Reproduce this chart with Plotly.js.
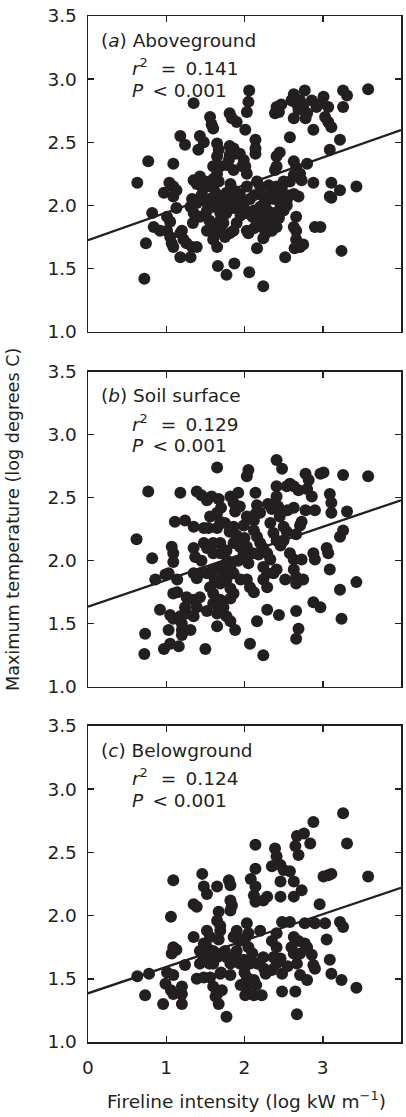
<!DOCTYPE html>
<html>
<head>
<meta charset="utf-8">
<script src="https://cdn.plot.ly/plotly-3.0.1.min.js"></script>
<style>html,body{margin:0;padding:0;background:#fff;}#chart{width:406px;height:1117px;}</style>
</head>
<body>
<div id="chart"></div>
<script>
// ---- Data (log fireline intensity vs log max temperature) ----
const aboveX = [3.58,2.77,3.26,3.31,3.01,2.63,2.06,2.05,2.03,1.35,1.56,1.58,1.60,1.81,1.84,1.90,2.01,3.26,2.41,2.44,2.39,2.47,2.60,2.66,2.69,2.63,2.71,2.75,2.80,2.78,2.86,2.92,2.98,3.07,3.03,3.07,3.11,2.88,2.58,3.22,3.09,1.18,1.24,1.43,1.48,1.41,1.65,1.67,1.65,1.81,1.86,1.88,1.81,1.80,1.94,1.99,2.14,2.14,2.14,0.77,1.09,1.60,1.69,1.77,1.86,2.01,2.03,2.41,2.45,2.41,2.39,2.63,2.66,2.80,0.63,1.04,1.09,1.13,0.97,1.09,1.35,1.39,1.43,1.50,1.52,1.60,1.60,1.63,1.69,1.77,1.86,1.90,1.94,2.03,2.16,2.20,2.12,2.24,2.31,2.33,2.41,2.48,2.50,2.58,2.63,2.71,2.73,2.63,2.69,2.54,2.50,2.88,3.11,3.09,3.11,3.22,3.43,0.82,1.13,1.01,1.05,1.31,1.39,1.48,1.35,1.43,1.52,1.60,1.69,1.69,1.77,1.86,1.90,1.99,2.12,2.20,2.03,2.10,2.16,2.24,2.29,2.33,2.37,2.46,2.50,2.54,2.66,2.63,0.84,0.92,1.01,1.05,1.07,1.09,1.18,1.22,1.20,1.26,1.33,1.39,1.18,1.31,1.34,1.52,1.63,1.60,1.65,1.69,1.73,1.81,1.86,1.90,2.03,2.05,2.16,2.22,2.27,2.24,2.29,2.35,2.41,2.16,2.66,2.66,2.64,2.71,2.75,2.90,2.97,2.52,3.24,0.74,0.72,1.66,1.77,1.87,2.06,2.24,1.97,1.65,1.67,
  1.45,1.55,1.72,1.78,1.55,1.72,1.47,1.33,1.82,1.95,2.07,2.27,2.38,2.44,2.35,2.55,2.20,1.95,1.62,1.75,2.12,2.45];
const aboveY = [2.92,2.91,2.91,2.87,2.86,2.88,2.91,2.82,2.74,2.81,2.70,2.64,2.61,2.73,2.69,2.66,2.60,2.78,2.78,2.74,2.73,2.80,2.83,2.81,2.76,2.69,2.83,2.78,2.73,2.69,2.83,2.78,2.81,2.78,2.70,2.66,2.62,2.60,2.54,2.52,2.44,2.55,2.48,2.55,2.50,2.44,2.49,2.44,2.39,2.47,2.45,2.41,2.40,2.36,2.41,2.36,2.52,2.45,2.41,2.35,2.33,2.31,2.31,2.32,2.28,2.31,2.25,2.39,2.42,2.31,2.28,2.35,2.30,2.33,2.18,2.18,2.15,2.12,2.10,2.07,2.20,2.17,2.23,2.19,2.15,2.21,2.15,2.10,2.04,2.10,2.12,2.07,2.09,2.15,2.19,2.15,2.08,2.07,2.16,2.11,2.15,2.15,2.19,2.19,2.24,2.25,2.20,2.09,2.07,2.04,2.02,2.18,2.18,2.07,2.06,2.12,2.15,1.94,1.98,1.91,1.87,1.99,2.02,2.04,1.94,1.91,1.96,1.99,1.94,1.88,1.94,1.98,2.02,1.99,1.96,1.99,1.94,1.91,1.88,1.91,1.96,1.91,1.94,1.99,1.96,2.00,1.91,1.83,1.83,1.80,1.80,1.75,1.70,1.67,1.78,1.73,1.80,1.70,1.67,1.67,1.59,1.59,1.86,1.80,1.78,1.73,1.67,1.83,1.86,1.78,1.80,1.86,1.80,1.78,1.86,1.83,1.78,1.74,1.86,1.87,1.83,1.66,1.80,1.73,1.66,1.67,1.69,1.83,1.83,1.59,1.64,1.70,1.42,1.52,1.45,1.54,1.47,1.36,2.31,2.25,2.19,
  2.08,2.05,2.00,2.03,1.88,1.90,2.13,2.05,2.17,2.05,2.05,2.02,2.05,1.90,1.80,2.08,1.93,1.92,1.84,1.75,1.82,2.10];

const soilX = [3.58,3.26,3.01,2.97,2.78,2.82,2.80,2.86,2.41,2.48,1.65,2.05,2.03,0.77,1.18,1.39,1.45,1.52,1.58,1.67,1.82,1.92,1.86,1.94,1.88,2.14,2.16,2.14,2.41,2.41,2.39,2.43,2.35,2.54,2.58,2.63,2.69,2.63,2.73,2.90,2.78,3.09,3.11,3.11,3.31,3.26,3.22,1.11,1.24,1.35,1.48,1.56,1.65,1.69,1.54,1.65,1.81,1.86,1.99,2.03,2.12,2.12,2.16,2.20,2.24,2.33,2.37,2.41,2.50,2.54,2.50,2.46,2.66,2.71,0.62,1.07,1.09,1.09,1.35,1.37,1.48,1.52,1.60,1.69,1.60,1.69,1.77,1.86,1.94,1.99,2.03,2.10,2.29,2.33,2.24,2.58,2.63,2.73,2.88,2.90,3.05,3.07,0.82,0.86,0.99,1.03,1.14,1.14,1.09,1.35,1.39,1.43,1.52,1.60,1.69,1.73,1.82,1.86,1.56,1.60,1.69,1.77,1.82,1.86,1.82,2.03,2.07,2.12,2.24,2.29,2.29,2.37,2.41,2.52,2.63,2.66,2.66,2.75,3.09,3.22,3.43,1.26,1.35,1.43,1.24,1.26,1.35,1.39,1.52,1.60,1.65,1.69,1.73,0.92,1.05,1.09,1.18,1.20,1.20,1.20,1.31,1.03,0.73,0.72,0.97,1.05,1.16,1.50,1.65,1.77,1.82,1.88,2.16,2.07,2.24,2.29,2.44,2.66,2.69,2.66,2.88,2.97,3.24,
  1.75,1.90,2.00,1.78,1.92,2.05,2.18,2.45,2.55,1.70,1.45,2.30,2.20,1.62,1.95];
const soilY = [2.67,2.68,2.70,2.69,2.69,2.64,2.57,2.51,2.80,2.73,2.74,2.72,2.67,2.55,2.54,2.55,2.52,2.48,2.51,2.49,2.51,2.54,2.46,2.43,2.39,2.54,2.44,2.37,2.59,2.51,2.46,2.43,2.41,2.59,2.61,2.59,2.56,2.42,2.31,2.40,2.40,2.53,2.46,2.38,2.39,2.24,2.19,2.31,2.32,2.27,2.26,2.35,2.38,2.31,2.26,2.26,2.23,2.27,2.28,2.35,2.32,2.24,2.19,2.14,2.10,2.30,2.22,2.16,2.27,2.23,2.16,2.12,2.21,2.28,2.17,2.11,2.06,1.99,2.10,2.03,2.14,2.10,2.14,2.14,2.06,2.06,2.08,2.14,2.11,2.06,2.11,2.06,2.06,2.01,1.95,2.06,2.01,2.01,2.06,2.01,2.10,2.06,2.02,1.85,1.89,1.90,1.85,1.75,1.74,1.90,1.86,1.90,1.90,1.93,1.95,1.90,1.95,1.90,1.79,1.74,1.82,1.85,1.78,1.74,1.70,1.85,1.79,1.75,1.85,1.79,1.90,1.90,1.93,1.85,1.93,1.87,1.82,1.85,1.93,1.77,1.83,1.71,1.69,1.71,1.63,1.58,1.56,1.63,1.60,1.66,1.58,1.69,1.63,1.61,1.57,1.54,1.56,1.50,1.45,1.41,1.45,1.45,1.42,1.26,1.30,1.34,1.32,1.30,1.48,1.56,1.52,1.45,1.52,1.34,1.25,1.61,1.57,1.60,1.46,1.38,1.67,1.63,1.54,
  2.30,2.20,2.18,2.00,2.00,1.98,2.05,2.35,2.40,2.42,2.00,2.45,2.38,1.85,1.85];

const belowX = [3.26,3.31,2.88,2.67,2.76,2.84,2.65,2.69,2.14,2.39,2.41,2.35,2.46,2.50,2.58,2.46,2.63,2.63,2.73,2.46,2.14,2.08,2.14,2.12,2.14,2.24,2.29,1.46,1.48,1.52,1.09,1.65,1.80,1.82,1.35,1.39,1.82,1.84,1.82,1.67,1.65,1.69,1.06,2.96,3.01,3.07,3.11,3.58,2.48,2.58,2.77,2.90,3.03,3.22,3.26,3.05,2.63,2.69,2.77,2.80,2.41,2.20,2.03,2.05,2.01,2.05,1.90,1.86,1.94,1.35,1.52,1.56,1.52,1.69,1.67,1.09,1.13,1.07,1.43,1.48,1.43,1.60,1.65,1.60,1.73,1.77,1.82,1.86,1.94,1.99,2.07,2.16,2.24,2.41,2.37,2.46,2.41,2.63,2.71,2.67,2.86,2.88,3.09,1.24,0.63,0.78,1.01,1.09,1.39,1.48,1.56,1.69,1.82,2.03,2.12,2.27,2.35,2.48,2.71,2.80,2.90,3.11,3.24,3.43,0.99,1.06,1.09,1.20,1.20,0.73,0.96,1.20,1.60,1.65,1.63,1.67,1.71,1.77,2.03,2.01,2.12,2.22,2.48,2.65,2.67,
  1.55,1.58,1.75,1.90,2.10,2.25,2.55,2.60,1.70,2.00,2.15,1.95,2.35,1.48];
const belowY = [2.81,2.57,2.74,2.63,2.65,2.57,2.55,2.48,2.56,2.53,2.47,2.39,2.40,2.36,2.35,2.27,2.27,2.15,2.20,2.15,2.37,2.29,2.23,2.16,2.11,2.12,2.15,2.33,2.23,2.17,2.28,2.23,2.28,2.24,2.09,2.07,2.12,2.08,2.04,2.03,1.96,1.92,1.99,2.09,2.31,2.32,2.33,2.31,1.95,1.95,1.94,1.94,1.94,1.95,1.91,1.81,1.83,1.80,1.78,1.75,1.86,1.88,1.94,1.86,1.82,1.75,1.88,1.83,1.80,1.83,1.88,1.83,1.75,1.88,1.81,1.75,1.73,1.70,1.72,1.67,1.62,1.72,1.67,1.62,1.70,1.67,1.62,1.67,1.62,1.65,1.62,1.62,1.67,1.75,1.67,1.66,1.62,1.70,1.70,1.62,1.69,1.61,1.65,1.61,1.52,1.54,1.55,1.53,1.50,1.51,1.51,1.54,1.53,1.51,1.49,1.54,1.57,1.54,1.53,1.49,1.58,1.54,1.49,1.43,1.46,1.41,1.38,1.44,1.38,1.37,1.30,1.30,1.44,1.38,1.36,1.30,1.41,1.20,1.44,1.37,1.37,1.37,1.40,1.40,1.22,
  1.62,1.70,1.72,1.72,1.70,1.58,1.60,1.75,1.55,1.55,1.45,1.45,1.80,1.78];

// Fitted regression lines (value at x = 0 and x = 4)
const fitX = [0, 4];
const fitAbove = [1.725, 2.597];
const fitSoil = [1.635, 2.480];
const fitBelow = [1.385, 2.220];

const panelLabels = [["a", "Aboveground"], ["b", "Soil surface"], ["c", "Belowground"]];
const r2Values = ["0.141", "0.129", "0.124"];
const pValues = ["0.001", "0.001", "0.001"];
const yTicks = [1.0, 1.5, 2.0, 2.5, 3.0, 3.5];
const xTicks = [0, 1, 2, 3, 4];

// ---- Styling ----
const ink = "#231f20";
const FONT = "DejaVu Sans, Arial, sans-serif";
const FS = 18.5;
const EN = "\u2002", THIN = "\u2009";
const panels = [
  {x: aboveX, y: aboveY, fit: fitAbove, xa: "x", ya: "y"},
  {x: soilX, y: soilY, fit: fitSoil, xa: "x2", ya: "y2"},
  {x: belowX, y: belowY, fit: fitBelow, xa: "x3", ya: "y3"}
];

const traces = [];
panels.forEach(p => {
  traces.push({type: "scatter", mode: "markers", x: p.x, y: p.y, xaxis: p.xa, yaxis: p.ya,
    marker: {size: 12, color: ink, line: {width: 0}}, hoverinfo: "skip", cliponaxis: false});
  traces.push({type: "scatter", mode: "lines", x: fitX, y: p.fit, xaxis: p.xa, yaxis: p.ya,
    line: {color: ink, width: 2.3}, hoverinfo: "skip"});
});

function xAxis(anchor, labels) {
  return {anchor: anchor, range: [0, 4], tickvals: xTicks, ticktext: xTicks.map(String),
    showticklabels: labels, ticks: "inside", ticklen: 6, tickwidth: 1.5, tickcolor: ink,
    showline: true, linecolor: ink, linewidth: 1.5, mirror: "ticks", showgrid: false, zeroline: false,
    tickfont: {family: FONT, size: FS, color: ink}, ticklabelstandoff: 8, fixedrange: true};
}
function yAxis(anchor, domain) {
  return {anchor: anchor, domain: domain, range: [1, 3.5], tickvals: yTicks, ticktext: yTicks.map(v => v.toFixed(1)),
    ticks: "inside", ticklen: 6, tickwidth: 1.5, tickcolor: ink,
    showline: true, linecolor: ink, linewidth: 1.5, mirror: "ticks", showgrid: false, zeroline: false,
    tickfont: {family: FONT, size: FS, color: ink}, ticklabelstandoff: 6, fixedrange: true};
}

const annotations = [];
const refs = [["x domain", "y domain"], ["x2 domain", "y2 domain"], ["x3 domain", "y3 domain"]];
const panelH = 315.5;
panels.forEach((p, i) => {
  const [xr, yr] = refs[i];
  const common = {xref: xr, yref: yr, xanchor: "left", yanchor: "middle", showarrow: false,
    font: {family: FONT, size: FS, color: ink}};
  annotations.push(Object.assign({}, common, {x: 0.036, y: 1 - 24 / panelH,
    text: "(<i>" + panelLabels[i][0] + "</i>) " + panelLabels[i][1]}));
  annotations.push(Object.assign({}, common, {x: 0.133, y: 1 - 51 / panelH,
    text: "<i>r</i><sup>2</sup>" + EN + THIN + "=" + EN + r2Values[i]}));
  annotations.push(Object.assign({}, common, {x: 0.135, y: 1 - 74 / panelH,
    text: "<i>P</i>" + EN + "&lt; " + pValues[i]}));
});
// axis titles
annotations.push({xref: "paper", yref: "paper", x: (13 - 88) / 313, y: (1042 - 520) / 1026,
  xanchor: "center", yanchor: "middle", textangle: -90, showarrow: false,
  text: "Maximum temperature (log degrees C)", font: {family: FONT, size: 17.6, color: ink}});
annotations.push({xref: "paper", yref: "paper", x: (246 - 88) / 313, y: (1042 - 1100) / 1026,
  xanchor: "center", yanchor: "middle", showarrow: false,
  text: "Fireline intensity (log kW m<sup>\u22121</sup>)", font: {family: FONT, size: FS, color: ink}});

const layout = {
  width: 406, height: 1117,
  margin: {l: 88, r: 5, t: 16, b: 75, pad: 0},
  paper_bgcolor: "#ffffff", plot_bgcolor: "#ffffff",
  showlegend: false,
  font: {family: FONT, size: FS, color: ink},
  xaxis: xAxis("y", false),
  yaxis: yAxis("x", [0.6923, 1]),
  xaxis2: xAxis("y2", false),
  yaxis2: yAxis("x2", [0.3463, 0.6533]),
  xaxis3: xAxis("y3", true),
  yaxis3: yAxis("x3", [0, 0.308]),
  annotations: annotations
};

Plotly.newPlot("chart", traces, layout, {staticPlot: true, displayModeBar: false});
</script>
</body>
</html>
